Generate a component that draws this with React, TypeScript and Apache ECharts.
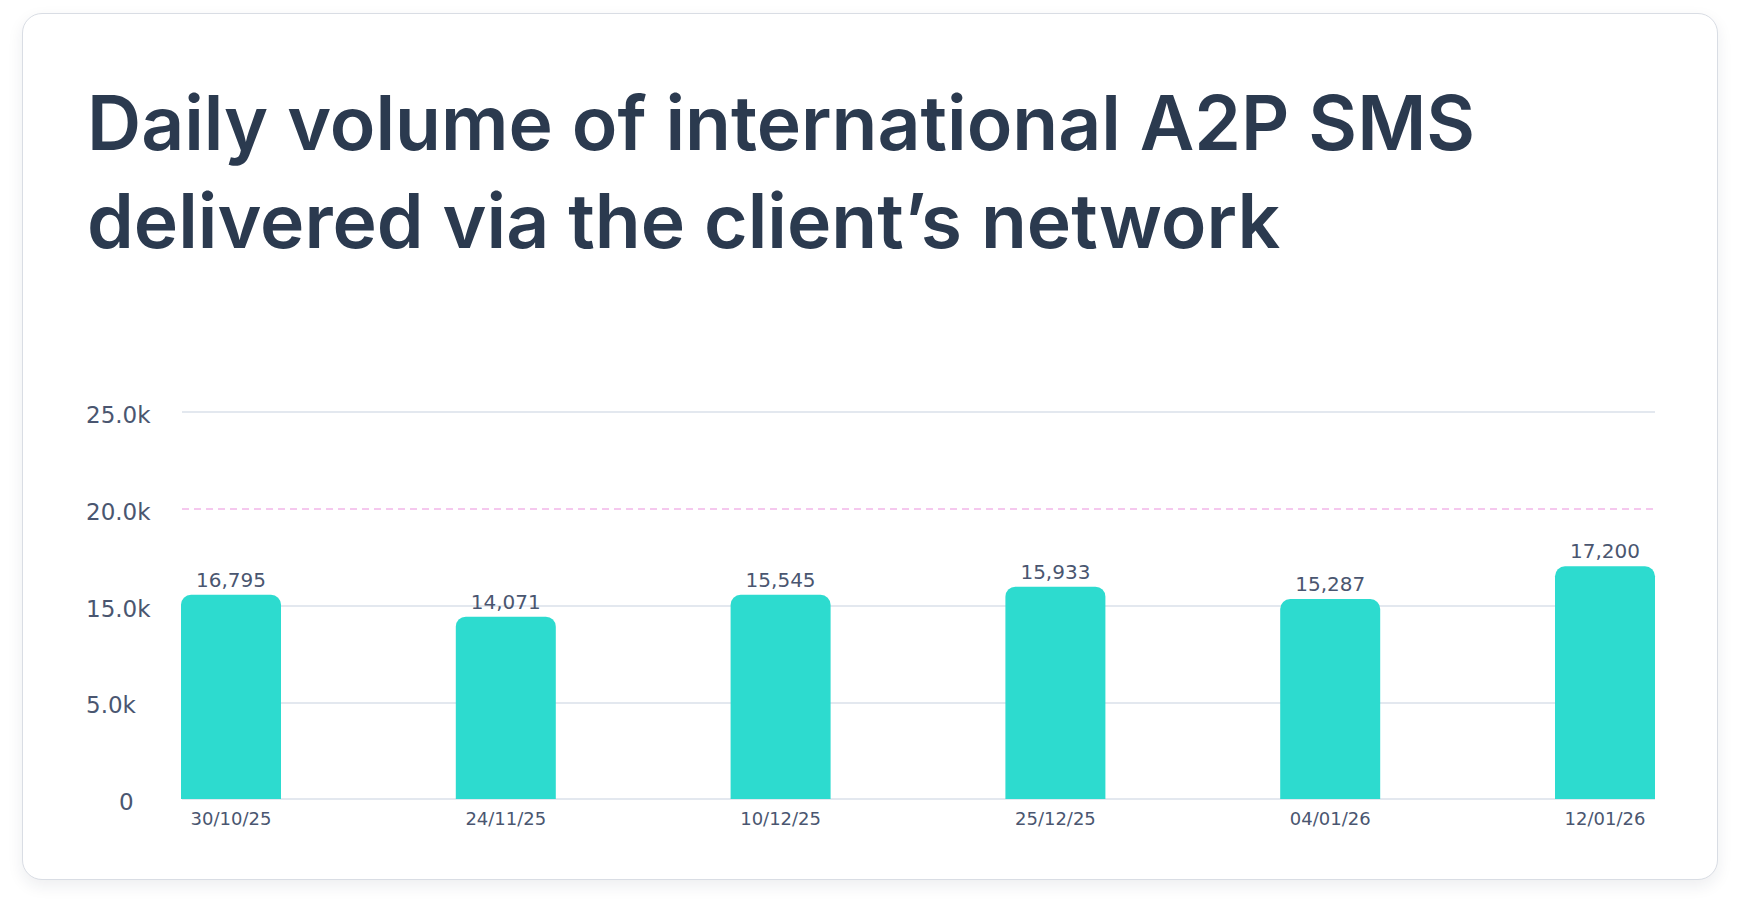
import React, { useEffect, useRef } from 'react';
import * as echarts from 'echarts';

// categories on the x axis
const dates = ['30/10/25', '24/11/25', '10/12/25', '25/12/25', '04/01/26', '12/01/26'];
// printed value above each bar
const volumes = [16795, 14071, 15545, 15933, 15287, 17200];
// bar heights as drawn, in gridline steps
const barHeights = [2.11, 1.885, 2.11, 2.195, 2.067, 2.405];
// y tick labels, one per gridline from the bottom
const yTickLabels = ['0', '5.0k', '15.0k', '20.0k', '25.0k'];
// the gridline drawn as a pink dashed line
const dashedTick = 3;

const TITLE = 'Daily volume of international A2P SMS\ndelivered via the client\u2019s network';

const App: React.FC = () => {
  const chartRef = useRef<HTMLDivElement>(null);

  useEffect(() => {
    if (!chartRef.current) return;
    const chart = echarts.init(chartRef.current, undefined, { renderer: 'svg' });

    const labelFont = '"DejaVu Sans", sans-serif';
    const maxTick = yTickLabels.length - 1;

    // gridline colours, the dashed one gets hidden here and redrawn as markLine
    const splitColors = yTickLabels.map((_, i) => (i === dashedTick ? 'rgba(0,0,0,0)' : '#e3e8ef'));

    chart.setOption({
      animation: false,
      title: {
        text: TITLE,
        left: 82,
        top: 68,
        textStyle: {
          fontFamily: 'Inter, sans-serif',
          fontWeight: 600,
          fontSize: 75,
          lineHeight: 98,
          color: '#2b3a4f',
        },
      },
      grid: [
        { left: 182, right: 85, top: 412, bottom: 111 },
        { left: 231, right: 135, top: 412, bottom: 111 },
      ],
      xAxis: [
        { type: 'category', gridIndex: 0, data: dates, show: false },
        {
          type: 'category',
          gridIndex: 1,
          data: dates,
          boundaryGap: false,
          axisLine: { show: false },
          axisTick: { show: false },
          axisLabel: {
            margin: 10,
            fontFamily: labelFont,
            fontSize: 18,
            color: '#4a5670',
          },
        },
      ],
      yAxis: [
        {
          type: 'value',
          gridIndex: 0,
          min: 0,
          max: maxTick,
          interval: 1,
          axisLine: { show: false },
          axisTick: { show: false },
          splitLine: { lineStyle: { color: splitColors, width: 2 } },
          axisLabel: {
            align: 'left',
            margin: 96,
            fontFamily: labelFont,
            fontSize: 23,
            color: '#4a5670',
            padding: [6, 0, 0, 0],
            formatter: (v: number) => {
              const i = Math.round(v);
              return i === 0 ? '{z|' + yTickLabels[0] + '}' : yTickLabels[i];
            },
            rich: {
              z: { padding: [0, 0, 0, 33], fontFamily: labelFont, fontSize: 23, color: '#4a5670' },
            },
          },
        },
        { type: 'value', gridIndex: 1, min: 0, max: maxTick, interval: 1, show: false, splitLine: { show: false } },
      ],
      series: [
        {
          type: 'line',
          xAxisIndex: 0,
          yAxisIndex: 0,
          data: [],
          silent: true,
          markLine: {
            symbol: 'none',
            silent: true,
            label: { show: false },
            lineStyle: { color: '#f5c8ee', type: [7, 5], width: 2 },
            data: [{ yAxis: dashedTick }],
          },
        },
        {
          type: 'bar',
          xAxisIndex: 1,
          yAxisIndex: 1,
          barWidth: 100,
          data: barHeights,
          itemStyle: { color: '#2ddbcf', borderRadius: [10, 10, 0, 0] },
          label: {
            show: true,
            position: 'top',
            distance: 5,
            fontFamily: labelFont,
            fontSize: 20,
            color: '#4a5670',
            formatter: (p: any) => volumes[p.dataIndex].toLocaleString('en-US'),
          },
        },
      ],
    });

    return () => {
      chart.dispose();
    };
  }, []);

  return (
    <div style={{ position: 'fixed', left: 0, top: 0, width: 1740, height: 910, background: '#ffffff' }}>
      <div
        style={{
          position: 'absolute',
          left: 22,
          top: 13,
          width: 1694,
          height: 865,
          border: '1px solid #d9dde4',
          borderRadius: 20,
          background: '#ffffff',
          boxShadow: '0 6px 16px rgba(30, 40, 60, 0.08)',
        }}
      />
      <div ref={chartRef} style={{ position: 'absolute', left: 0, top: 0, width: 1740, height: 910 }} />
    </div>
  );
};

export default App;
